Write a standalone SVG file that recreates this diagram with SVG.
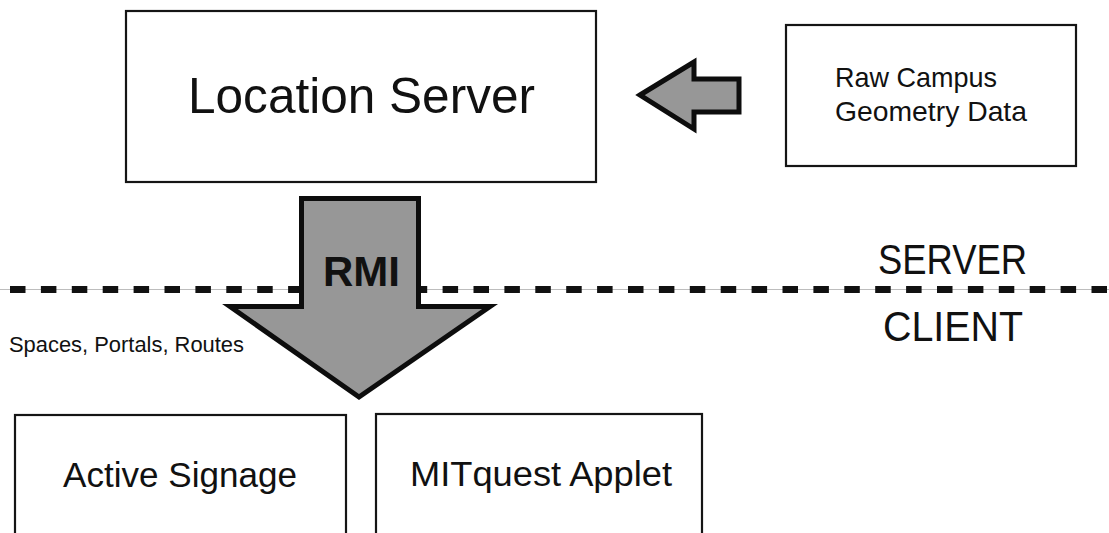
<svg xmlns="http://www.w3.org/2000/svg" width="1109" height="533" viewBox="0 0 1109 533">
  <style>
    .box { fill: #ffffff; stroke: #151515; stroke-width: 2.2; }
    .label { font-family: "Liberation Sans", Arial, sans-serif; fill: #111111; }
    .big-arrow { fill: #979797; stroke: #0d0d0d; stroke-width: 5; stroke-linejoin: miter; stroke-miterlimit: 10; }
    .divider-thin { stroke: #bdbdbd; stroke-width: 1; }
    .divider-dash { stroke: #111111; stroke-width: 7; stroke-dasharray: 15.5 15.4; }
  </style>
  <rect x="0" y="0" width="1109" height="533" fill="#ffffff"/>

  <!-- server / client boundary -->
  <g id="boundary">
    <line class="divider-thin" x1="0" y1="289.5" x2="1109" y2="289.5"/>
    <line class="divider-dash" x1="10" y1="289.5" x2="1109" y2="289.5"/>
    <text class="label" x="878" y="274" font-size="42" textLength="149" lengthAdjust="spacingAndGlyphs">SERVER</text>
    <text class="label" x="883" y="341" font-size="42" textLength="140" lengthAdjust="spacingAndGlyphs">CLIENT</text>
  </g>

  <!-- nodes -->
  <g id="location-server">
    <rect class="box" x="126" y="11" width="470" height="171"/>
    <text class="label" x="188" y="113" font-size="49.5" textLength="347" lengthAdjust="spacingAndGlyphs">Location Server</text>
  </g>

  <g id="raw-campus-data">
    <rect class="box" x="786" y="25" width="290" height="141"/>
    <text class="label" x="835" y="87" font-size="27.5" textLength="162" lengthAdjust="spacingAndGlyphs">Raw Campus</text>
    <text class="label" x="835" y="121" font-size="27.5" textLength="192" lengthAdjust="spacingAndGlyphs">Geometry Data</text>
  </g>

  <g id="active-signage">
    <rect class="box" x="15" y="415" width="331" height="130"/>
    <text class="label" x="63" y="487" font-size="35" textLength="234" lengthAdjust="spacingAndGlyphs">Active Signage</text>
  </g>

  <g id="mitquest-applet">
    <rect class="box" x="376" y="414" width="326" height="130"/>
    <text class="label" x="410" y="486" font-size="35" textLength="262" lengthAdjust="spacingAndGlyphs">MITquest Applet</text>
  </g>

  <!-- connectors -->
  <g id="connectors">
    <!-- geometry data feeding the location server -->
    <polygon class="big-arrow" points="640,95 694,62 694,79 739,79 739,112 694,112 694,129"/>
    <!-- RMI transfer from server to clients -->
    <path class="big-arrow" d="M301.5,198.5 H418.5 V306.5 H490 L359,397 L230,306.5 H301.5 Z"/>
    <text class="label" x="323" y="286" font-size="43" font-weight="bold" textLength="77" lengthAdjust="spacingAndGlyphs">RMI</text>
    <text class="label" x="9" y="352" font-size="22" textLength="235" lengthAdjust="spacingAndGlyphs">Spaces, Portals, Routes</text>
  </g>
</svg>
